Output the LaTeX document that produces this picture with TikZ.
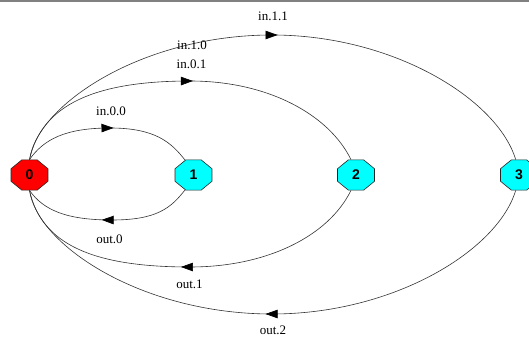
\documentclass[tikz,border=0pt]{standalone}
\usepackage{fontspec}
\usepackage{graphicx}
\setmainfont{Liberation Serif}
\newfontfamily\statefont{Liberation Sans}
\usetikzlibrary{shapes.geometric,arrows.meta,decorations.markings}
\definecolor{stred}{RGB}{255,0,0}
\definecolor{stcyan}{RGB}{0,255,255}
\definecolor{barg}{RGB}{128,128,128}
\begin{document}
\begin{tikzpicture}[x=1pt,y=1pt,
  state/.style={regular polygon, regular polygon sides=8, minimum size=40pt, inner sep=0pt,
     draw=black!85, line width=0.6pt, yscale=0.82, transform shape,
     font=\statefont\fontsize{14}{14}\selectfont\bfseries},
  conn/.style={draw=black!80, line width=0.6pt, postaction={decorate},
     decoration={markings, mark=at position 0.5 with {\arrow[xshift=6pt]{Triangle[length=12pt,width=8.5pt,fill=black,color=black]}}}},
  lab/.style={font=\fontsize{13}{13}\selectfont, inner sep=0pt}]
\useasboundingbox (0,0) rectangle (529,337);
\fill[barg] (0,334.5) rectangle (529,337);
% states
\node[state, fill=stred]  (n0) at (29.5,162) {\scalebox{1}[1.22]{0}};
\node[state, fill=stcyan] (n1) at (193.5,162) {\scalebox{1}[1.22]{1}};
\node[state, fill=stcyan] (n2) at (356,162) {\scalebox{1}[1.22]{2}};
\node[state, fill=stcyan] (n3) at (519,162) {\scalebox{1}[1.22]{3}};
% apex points
\coordinate (p01) at (110,209);
\coordinate (p02) at (190,256);
\coordinate (p03) at (272,302);
\coordinate (q10) at (112,117);
\coordinate (q20) at (190,70);
\coordinate (q30) at (272,23);
% upper arcs
\draw[conn] (n0.north) .. controls +(14,20) and +(-45,0) .. (p01) .. controls +(45,0) and +(-14,18) .. (n1.115);
\draw[conn] (n0.north) .. controls +(12,55) and +(-95,0) .. (p02) .. controls +(78,0) and +(-22,45) .. (n2.105);
\draw[conn] (n0.north) .. controls +(8,55) and +(-130,0) .. (p03) .. controls +(122,0) and +(-18,60) .. (n3.100);
% lower arcs
\draw[conn] (n1.-115) .. controls +(-14,-18) and +(45,0) .. (q10) .. controls +(-45,0) and +(14,-20) .. (n0.south);
\draw[conn] (n2.-105) .. controls +(-22,-45) and +(78,0) .. (q20) .. controls +(-95,0) and +(12,-55) .. (n0.south);
\draw[conn] (n3.-100) .. controls +(-18,-60) and +(122,0) .. (q30) .. controls +(-130,0) and +(8,-55) .. (n0.south);
% labels
\node[lab] (l11) at (273,320.5) {in.1.1};
\node[lab] (l10) at (192,291.5) {in.1.0};
\node[lab] (l01) at (191.5,272.5) {in.0.1};
\node[lab] (l00) at (111,225.5) {in.0.0};
\node[lab] (o0) at (109.5,98) {out.0};
\node[lab] (o1) at (189.5,52.5) {out.1};
\node[lab] (o2) at (273,7) {out.2};
\end{tikzpicture}
\end{document}
